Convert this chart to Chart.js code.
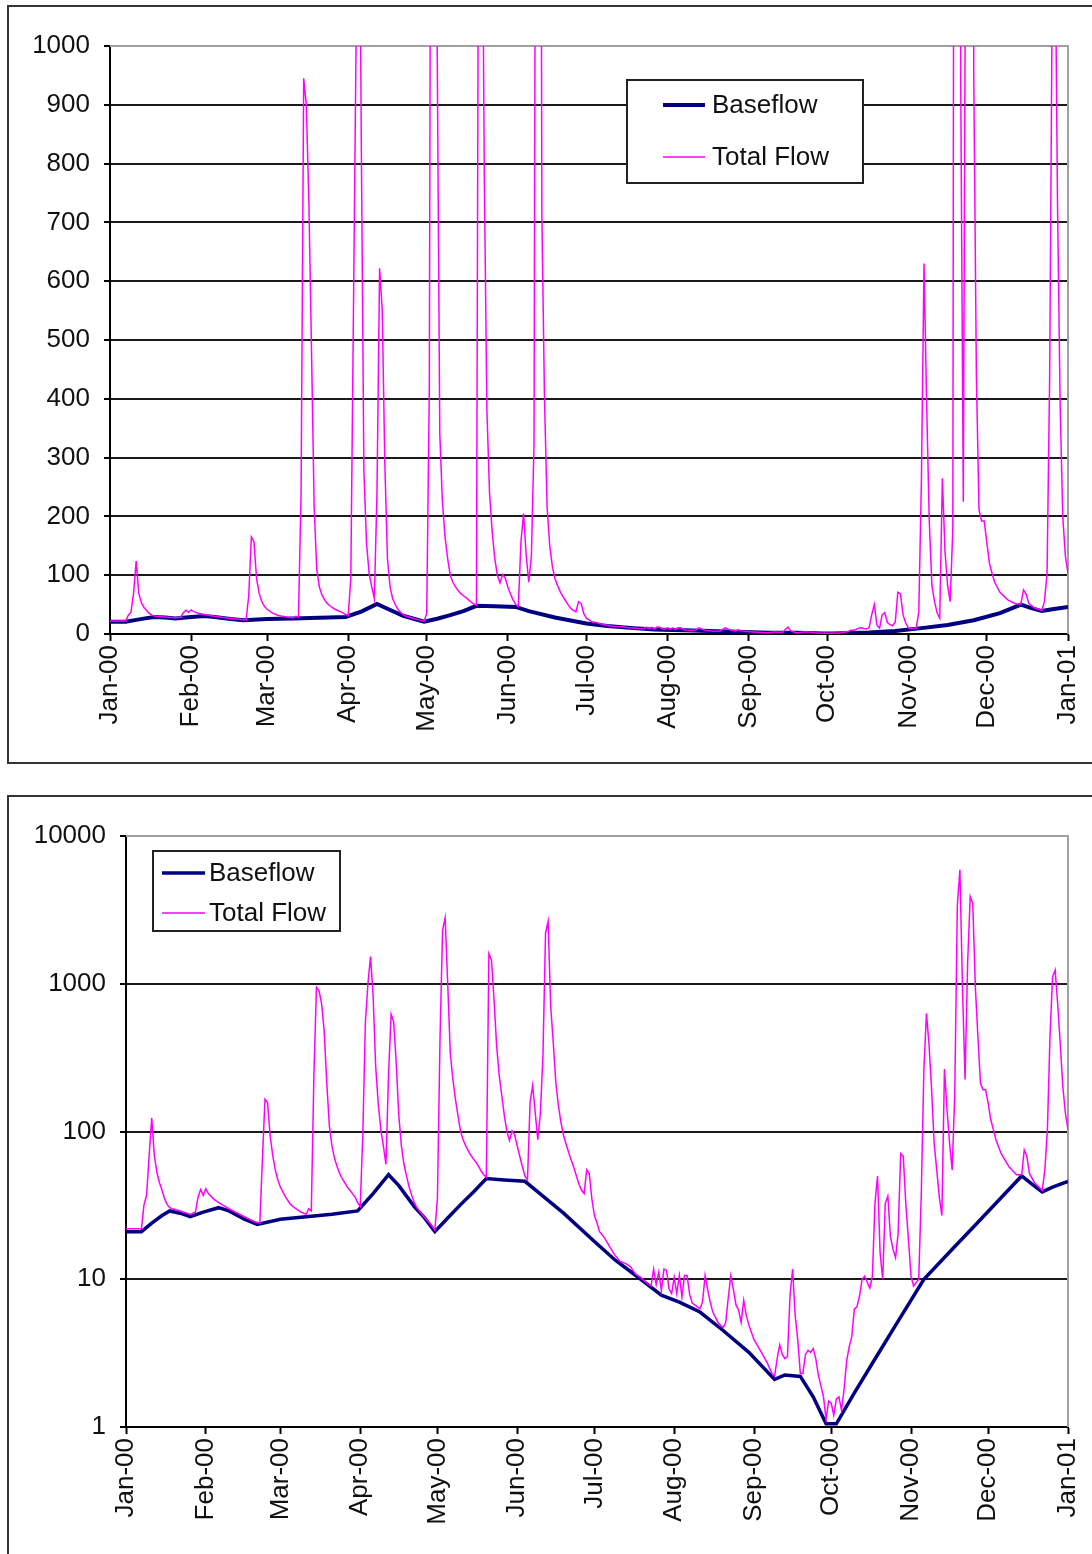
<!DOCTYPE html>
<html><head><meta charset="utf-8">
<script src="https://cdn.jsdelivr.net/npm/chart.js@4.4.1/dist/chart.umd.min.js"></script>
<style>
html,body{margin:0;padding:0;background:#fff;width:1092px;height:1554px;overflow:hidden;}
.frame{position:absolute;border:2px solid #333;box-sizing:border-box;}
#f1{left:7px;top:5px;width:1100px;height:759px;}
#f2{left:7px;top:795px;width:1100px;height:800px;}
canvas{position:absolute;left:0;}
#c1{top:0;}
#c2{top:770px;}
</style></head><body>
<div class="frame" id="f1"></div><div class="frame" id="f2"></div>
<canvas id="c1" width="1092" height="770"></canvas>
<canvas id="c2" width="1092" height="784"></canvas>
<script>
// ---- data (x = day of year 2000, 0 = 1 Jan 2000) ----
const monthDays = [0,31,60,91,121,152,182,213,244,274,305,335,366];
const monthLabels = ['Jan-00','Feb-00','Mar-00','Apr-00','May-00','Jun-00','Jul-00','Aug-00','Sep-00','Oct-00','Nov-00','Dec-00','Jan-01'];
const linearTicks = [0,100,200,300,400,500,600,700,800,900,1000];
const logTicks = [1,10,100,1000,10000];
const seriesNames = ['Baseflow','Total Flow'];

const baseflow = [[0,21],[6,21],[10,24],[14,27],[17,29],[21,28],[25,26.5],[30,28.5],[36,30.5],[40,29],[46,25.5],[51,23.5],[60,25.5],[70,26.5],[80,27.5],[90,29],[96,38],[102,51],[106,43],[112,31],[116,26],[120,21],[125,26],[130,32],[135,39],[140,48],[147,47],[155,46],[160,39],[170,28],[182,18],[190,13.5],[200,10],[208,7.8],[215,7],[223,6],[232,4.5],[242,3.2],[252,2.1],[256,2.25],[262,2.2],[267,1.6],[272,1.05],[276,1.05],[283,1.7],[290,2.7],[300,5.2],[310,10],[320,15.3],[330,23.3],[340,35.6],[348,50],[352,44],[356,39],[360,42],[366,46]];

const totalQ1 = [[0,22],[6,22],[7,32],[8,37],[9,69],[10,124],[11,69],[12,53],[13,45],[14,40],[15,35],[16,32],[17,30.5],[18,30],[21,29],[25,27.5],[27,28.5],[28,36],[29,40.5],[30,37],[31,41],[32,38],[34,35],[36,33],[38,31.5],[40,30],[46,26.5],[50,24.5],[52,24],[53,65],[54,165],[55,157],[56,94],[57,69],[58,55],[59,47],[60,42],[62,36],[64,32],[66,30],[68,28.5],[70,27.5],[71,30],[72,29],[73,238],[74,945],[75,900],[76,730],[77,480],[78,215],[79,110],[80,80],[81,66],[82,58],[83,52],[84,48],[85,45],[86,42],[87,40],[88,38],[89,36],[90,33]];
const totalQ2 = [[91,31],[92,94],[93,544],[94,1000],[95,1530],[96,842],[97,277],[98,155],[99,103],[100,80],[101,60],[102,240],[103,622],[104,552],[105,290],[106,128],[107,80],[108,60],[109,50],[110,42],[111,37],[112,33],[113,30.5],[115,27.5],[117,25],[118,24],[120,21.5],[121,35],[122,420],[123,2300],[124,2800],[125,1000],[126,340],[127,225],[128,165],[129,128],[130,100],[131,88],[132,80],[133,74],[134,69],[135,65],[136,62],[137,58],[138,54],[139,51],[140,49],[141,1600],[142,1450],[143,780],[144,380],[145,240],[146,175],[147,128],[148,100],[149,87],[150,101],[151,95],[152,80],[153,68],[154,58],[155,50],[156,47],[157,157],[158,205],[159,134],[160,88],[161,134],[162,325],[163,2200],[164,2650],[165,710],[166,400],[167,215],[168,150],[169,115],[170,94],[171,82],[172,72],[173,64],[174,57],[175,50],[176,44],[177,40],[178,38],[179,55],[180,52],[181,35]];
const totalQ3 = [[182,27],[183,24],[184,21],[186,19],[188,16.5],[190,14.5],[192,13.2],[194,12.8],[196,12.2],[198,10.8],[200,10.3],[202,9.5],[204,9],[205,11.7],[206,9.2],[207,11.2],[208,8.4],[209,11.7],[210,11.5],[211,8.6],[212,8],[213,10.3],[214,8],[215,10.6],[216,7.6],[217,10.6],[218,10.6],[219,7.9],[220,6.9],[222,6.5],[223,6.3],[224,7],[225,10.6],[226,8.5],[227,7],[228,6],[230,5.1],[232,4.7],[233,5.1],[234,7.5],[235,10.6],[236,8.5],[237,6.7],[238,6.2],[239,5.1],[240,7.2],[241,5.7],[242,4.9],[244,3.9],[246,3.4],[249,2.75],[251,2.3],[252,2.2],[253,2.9],[254,3.6],[255,3.1],[256,2.9],[257,3],[258,7.8],[259,11.7],[260,5.7],[261,3.9],[262,2.3],[263,2.3],[264,3.1],[265,3.3],[266,3.2],[267,3.4],[268,2.9],[269,2.25],[270,1.9],[271,1.6],[272,1.13],[273,1.5]];
const totalQ4 = [[274,1.45],[275,1.2],[276,1.55],[277,1.6],[278,1.3],[279,1.8],[280,2.8],[281,3.5],[282,4.1],[283,6.3],[284,6.5],[285,7.7],[286,10],[287,10.5],[288,9.5],[289,8.7],[290,10.5],[291,32.6],[292,50],[293,15],[294,10],[295,32.6],[296,36.5],[297,19.5],[298,16],[299,14],[300,20.5],[301,71],[302,68],[303,32],[304,18.7],[305,10.5],[306,9],[307,9.5],[308,10],[309,38],[310,262],[311,630],[312,390],[313,192],[314,83],[315,55],[316,36],[317,27],[318,265],[319,141],[320,83],[321,55],[322,180],[323,3400],[324,5900],[325,950],[326,225],[327,1370],[328,3900],[329,3500],[330,950],[331,440],[332,211],[333,192],[334,192],[335,155],[336,120],[337,103],[338,88],[340,71],[343,58],[346,51],[348,51],[349,75],[350,68],[351,52],[353,45],[356,40],[357,55],[358,103],[359,440],[360,1110],[361,1240],[362,730],[363,390],[364,200],[365,133],[366,103]];

// ---- chart construction ----
const FONT = '"Liberation Sans", Arial, sans-serif';
Chart.defaults.font.family = FONT;
Chart.defaults.font.size = 26;
Chart.defaults.color = '#111';

const toPts = arr => arr.map(p => ({x: p[0], y: p[1]}));
const totalFlow = [].concat(totalQ1, totalQ2, totalQ3, totalQ4);

function legendPlugin(box) {
  return {
    id: 'boxLegend',
    afterDraw(chart) {
      const ctx = chart.ctx;
      ctx.save();
      ctx.fillStyle = '#fff';
      ctx.fillRect(box.x, box.y, box.w, box.h);
      ctx.lineWidth = 2;
      ctx.strokeStyle = '#222';
      ctx.strokeRect(box.x, box.y, box.w, box.h);
      chart.data.datasets.forEach((ds, i) => {
        const y = box.rows[i];
        ctx.beginPath();
        ctx.strokeStyle = ds.borderColor;
        ctx.lineWidth = ds.borderWidth;
        ctx.moveTo(box.l1, y);
        ctx.lineTo(box.l2, y);
        ctx.stroke();
        ctx.fillStyle = '#111';
        ctx.font = '26px ' + FONT;
        ctx.textBaseline = 'middle';
        ctx.textAlign = 'left';
        ctx.fillText(ds.label, box.tx, y + 1);
      });
      ctx.restore();
    }
  };
}

const frameBorder = {
  id: 'frameBorder',
  beforeDatasetsDraw(chart) {
    const a = chart.chartArea, ctx = chart.ctx;
    ctx.save();
    ctx.strokeStyle = '#a0a0a0';
    ctx.lineWidth = 2;
    ctx.beginPath();
    ctx.moveTo(a.left, a.top);
    ctx.lineTo(a.right, a.top);
    ctx.lineTo(a.right, a.bottom);
    ctx.stroke();
    ctx.restore();
  }
};

function noPad(s) { s.paddingLeft = 0; s.paddingRight = 0; s.paddingTop = 0; s.paddingBottom = 0; }

function makeChart(id, yType, yTicks, geom, box, baseWidth) {
  const yMax = yTicks[yTicks.length - 1];
  return new Chart(document.getElementById(id), {
    type: 'line',
    data: {
      datasets: [
        {label: seriesNames[0], data: toPts(baseflow), borderColor: '#000080', borderWidth: baseWidth,
         pointRadius: 0, tension: 0, order: 1},
        {label: seriesNames[1], data: toPts(totalFlow), borderColor: '#ff00ff', borderWidth: 1.5,
         pointRadius: 0, tension: 0, order: 0}
      ]
    },
    options: {
      responsive: false, animation: false, devicePixelRatio: 1,
      layout: {padding: {top: geom.top, right: geom.right, left: 0, bottom: 0}},
      plugins: {legend: {display: false}, tooltip: {enabled: false}},
      scales: {
        x: {
          type: 'linear', min: 0, max: 366,
          afterBuildTicks: s => { s.ticks = monthDays.map(v => ({value: v})); },
          afterFit: s => { s.height = geom.xh; noPad(s); },
          ticks: {autoSkip: false, minRotation: 90, maxRotation: 90, padding: 4, color: '#111',
                  font: {size: 26}, callback: v => monthLabels[monthDays.indexOf(v)]},
          grid: {drawOnChartArea: false, drawTicks: true, tickLength: 7, tickColor: '#000', tickWidth: 2},
          border: {display: true, color: '#000', width: 2}
        },
        y: {
          type: yType, min: yTicks[0], max: yMax,
          afterBuildTicks: s => { s.ticks = yTicks.map(v => ({value: v})); },
          afterFit: s => { s.width = geom.yw; noPad(s); },
          ticks: {padding: 14, color: '#111', font: {size: 26}, callback: v => String(v)},
          grid: {color: c => (c.tick && c.tick.value === yMax) ? 'rgba(0,0,0,0)' : '#1a1a1a',
                 lineWidth: 2, drawTicks: true, tickLength: 6, tickColor: '#000', tickWidth: 2},
          border: {display: true, color: '#000', width: 2}
        }
      }
    },
    plugins: [frameBorder, legendPlugin(box)]
  });
}

makeChart('c1', 'linear', linearTicks,
  {top: 46, right: 24, yw: 110, xh: 136},
  {x: 627, y: 80, w: 236, h: 103, rows: [105, 157], l1: 663, l2: 705, tx: 712}, 4);

makeChart('c2', 'logarithmic', logTicks,
  {top: 66, right: 24, yw: 126, xh: 127},
  {x: 153, y: 81, w: 187, h: 80, rows: [103, 143], l1: 162, l2: 205, tx: 209}, 3.5);
</script>
</body></html>
